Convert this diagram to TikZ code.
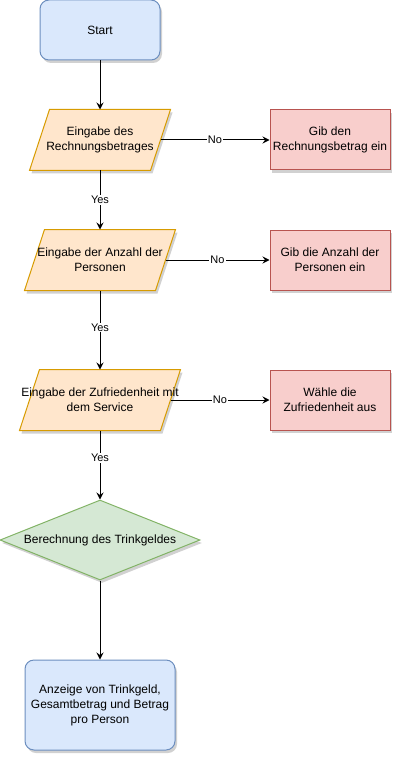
\documentclass[tikz,border=0pt]{standalone}
\usepackage{fontspec}
\setmainfont{Liberation Sans}
\usetikzlibrary{shapes.geometric,arrows.meta,shadows,backgrounds,calc}
\definecolor{bluef}{HTML}{DAE8FC}\definecolor{blued}{HTML}{6C8EBF}
\definecolor{orangef}{HTML}{FFE6CC}\definecolor{oranged}{HTML}{D79B00}
\definecolor{redf}{HTML}{F8CECC}\definecolor{redd}{HTML}{B85450}
\definecolor{greenf}{HTML}{D5E8D4}\definecolor{greend}{HTML}{82B366}
\newcommand\ctrline[1]{\makebox[0pt]{#1}}
\tikzset{
  base/.style={font=\fontsize{12}{15}\selectfont, align=center, inner sep=0pt, line width=1pt},
  shad/.style={drop shadow={shadow xshift=2pt, shadow yshift=-3pt, opacity=0.18, fill=black}},
  termbox/.style={base, draw=blued, fill=bluef, rounded corners=9pt, shad},
  inbox/.style={base, minimum height=60pt},
  inshape/.style={line width=1pt, draw=oranged, fill=orangef, shad},
  errbox/.style={base, draw=redd, fill=redf, minimum width=120pt, minimum height=60pt, shad},
  calcbox/.style={base, diamond, aspect=2.5, draw=greend, fill=greenf, minimum width=200pt, minimum height=80pt, shad},
  flow/.style={line width=1pt, -{Stealth[length=7pt,width=7pt,inset=2.5pt]}},
  lbl/.style={font=\fontsize{11}{13}\selectfont, fill=white, inner sep=1pt},
}
\begin{document}
\begin{tikzpicture}[x=1pt,y=-1pt]
\useasboundingbox (0,0) rectangle (402,762);

\node[termbox, minimum width=120pt, minimum height=60pt] (start) at (100,30) {Start};

\node[inbox, minimum width=120pt] (p1) at (100,140) {\ctrline{Eingabe des}\\\ctrline{Rechnungsbetrages}};
\node[inbox, minimum width=130pt] (p2) at (100,260) {\ctrline{Eingabe der Anzahl der}\\\ctrline{Personen}};
\node[inbox, minimum width=140pt] (p3) at (100,400) {\ctrline{Eingabe der Zufriedenheit mit}\\\ctrline{dem Service}};

\begin{scope}[on background layer]
\foreach \n in {p1,p2,p3}{
  \draw[inshape] ($(\n.north west)+(10,0)$) -- ($(\n.north east)+(10,0)$)
     -- ($(\n.south east)+(-10,0)$) -- ($(\n.south west)+(-10,0)$) -- cycle;
}
\end{scope}

\node[errbox] (r1) at (330,140) {Gib den\\Rechnungsbetrag ein};
\node[errbox] (r2) at (330,260) {Gib die Anzahl der\\Personen ein};
\node[errbox] (r3) at (330,400) {Wähle die\\Zufriedenheit aus};

\node[calcbox] (calc) at (100,540) {Berechnung des Trinkgeldes};

\node[termbox, minimum width=150pt, minimum height=90pt] (out) at (100,705) {Anzeige von Trinkgeld,\\Gesamtbetrag und Betrag\\pro Person};

\draw[flow] (start) -- (p1);
\draw[flow] (p1) -- node[lbl]{No} (r1);
\draw[flow] (p2) -- node[lbl]{No} (r2);
\draw[flow] (p3) -- node[lbl]{No} (r3);
\draw[flow] (p1) -- node[lbl]{Yes} (p2);
\draw[flow] (p2) -- node[lbl, pos=0.47]{Yes} (p3);
\draw[flow] (p3) -- node[lbl, pos=0.4]{Yes} (calc);
\draw[flow] (calc) -- (out);
\end{tikzpicture}
\end{document}
